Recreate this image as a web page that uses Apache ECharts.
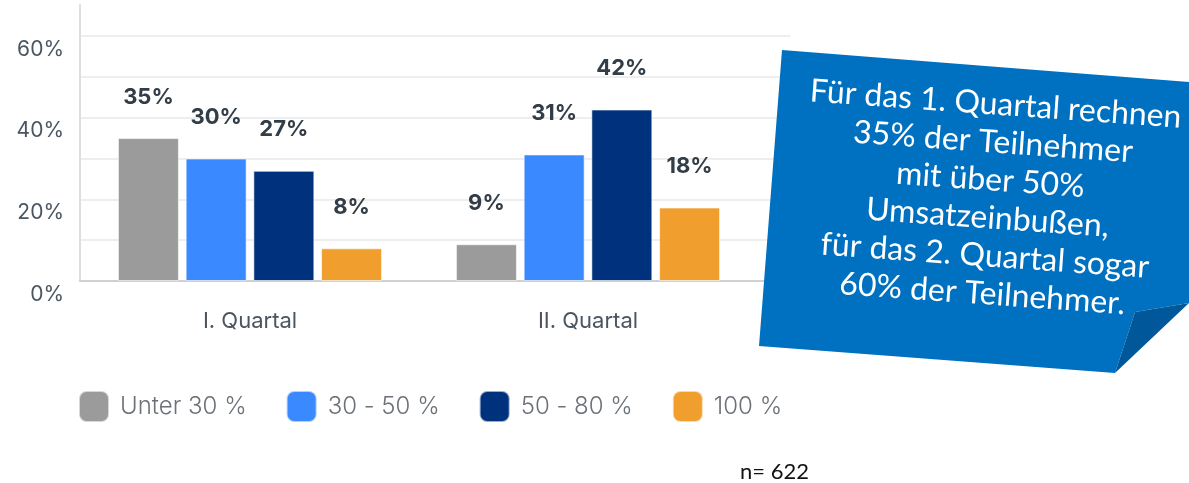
<!DOCTYPE html>
<html>
<head>
<meta charset="utf-8">
<script src="https://cdn.jsdelivr.net/npm/echarts@6/dist/echarts.min.js"></script>
<style>
html,body{margin:0;padding:0;background:#fff;}
#c{width:1189px;height:483px;}
</style>
</head>
<body>
<div id="c"></div>
<script>
var categories = ['I. Quartal', 'II. Quartal'];
var seriesNames = ['Unter 30 %', '30 - 50 %', '50 - 80 %', '100 %'];
var under30 = [35, 9];
var from30to50 = [30, 31];
var from50to80 = [27, 42];
var full100 = [8, 18];
var yTicks = [0, 20, 40, 60];
var calloutLines = ['Für das 1. Quartal rechnen', '35% der Teilnehmer', 'mit über 50%', 'Umsatzeinbußen,', 'für das 2. Quartal sogar', '60% der Teilnehmer.'];
var noteText = 'n= 622';

var colors = ['#9b9b9b', '#3a89fe', '#00317d', '#f09f2e'];
var values = [under30, from30to50, from50to80, full100];
var yMax = 67.6;

var chart = echarts.init(document.getElementById('c'), null, {renderer: 'canvas'});

var series = seriesNames.map(function (name, i) {
  return {
    name: name,
    type: 'bar',
    xAxisIndex: 1,
    yAxisIndex: 1,
    data: values[i],
    barWidth: 61,
    barGap: '11%',
    itemStyle: {color: colors[i], borderColor: 'rgba(255,255,255,0.6)', borderWidth: 1},
    label: {
      show: true,
      position: 'top',
      distance: 30,
      formatter: '{c}%',
      color: '#333d47',
      fontFamily: 'Inter',
      fontWeight: 'bold',
      fontSize: 22
    }
  };
});

var option = {
  backgroundColor: '#ffffff',
  animation: false,
  grid: [
    {left: 80, right: 399, top: 5, bottom: 202},
    {left: 81, right: 432, top: 5, bottom: 202}
  ],
  xAxis: [
    {
      gridIndex: 0, type: 'value', min: 0, max: 1,
      axisLine: {show: true, lineStyle: {color: '#d0d0d0', width: 2}},
      axisTick: {show: false}, axisLabel: {show: false}, splitLine: {show: false}
    },
    {
      gridIndex: 1, type: 'category', data: categories,
      axisLine: {show: false}, axisTick: {show: false},
      axisLabel: {margin: 29, color: '#4a5560', fontFamily: 'Inter', fontSize: 22}
    }
  ],
  yAxis: [
    {
      gridIndex: 0, type: 'value', min: 0, max: yMax, interval: 10,
      axisLine: {show: true, lineStyle: {color: '#dedede', width: 2}},
      axisTick: {show: false},
      splitLine: {show: true, showMaxLine: false, lineStyle: {color: '#eeeeee', width: 2}},
      axisLabel: {
        showMaxLabel: false,
        margin: 16,
        verticalAlign: 'top',
        padding: [3, 0, 0, 0],
        color: '#4a5560', fontFamily: 'Inter', fontSize: 21,
        formatter: function (v) { return yTicks.indexOf(v) >= 0 ? v + '%' : ''; }
      }
    },
    {
      gridIndex: 1, type: 'value', min: 0, max: yMax, interval: 10, show: false,
      splitLine: {show: false}
    }
  ],
  legend: {
    data: seriesNames,
    left: 78, top: 390,
    padding: 0,
    icon: 'roundRect',
    itemWidth: 30, itemHeight: 31,
    itemGap: 39,
    textStyle: {color: '#6b7178', fontFamily: 'Inter', fontWeight: 300, fontSize: 24, padding: [0, 0, 0, 6]}
  },
  series: series,
  graphic: [
    {
      type: 'polygon', z: 10,
      shape: {points: [[782, 50], [1189, 82], [1189, 303], [1135, 312], [1115, 373], [759, 346]]},
      style: {fill: '#0070c0'}
    },
    {
      type: 'polygon', z: 11,
      shape: {points: [[1135, 312], [1189, 303], [1115, 373]]},
      style: {fill: '#00589b'}
    },
    {
      type: 'text', z: 12,
      x: 989, y: 199, rotation: -0.071,
      style: {
        text: calloutLines.join('\n'),
        fill: '#ffffff',
        font: '32px Lato',
        lineHeight: 38,
        align: 'center',
        verticalAlign: 'middle'
      }
    },
    {
      type: 'text', z: 12,
      x: 740, y: 472,
      style: {text: noteText, fill: '#111111', font: '22px Lato', verticalAlign: 'middle'}
    }
  ]
};
chart.setOption(option);
</script>
</body>
</html>
